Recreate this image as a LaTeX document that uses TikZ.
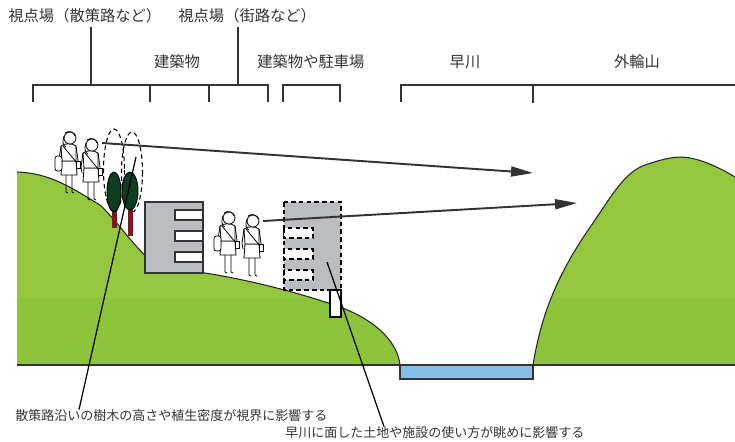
\documentclass[tikz,border=0pt]{standalone}
\usepackage{fontspec}
\setmainfont{Noto Sans CJK JP}
\usetikzlibrary{arrows.meta,positioning}

\definecolor{grass}{HTML}{94C73E}
\definecolor{grassdark}{HTML}{8EC43C}
\definecolor{river}{HTML}{86BEE8}
\definecolor{wall}{HTML}{BCBDC0}
\definecolor{leaf}{HTML}{0F3D22}
\definecolor{trunk}{HTML}{7A1A1E}
\definecolor{ink}{HTML}{333333}

%% both hills as one path, reused for the fill and the clip
\newcommand{\hillpath}{%
  (17,365) -- (17,172) .. controls (50,173) and (72,188) .. (100,205)
  .. controls (118,222) and (132,244) .. (148,258)
  .. controls (160,268) and (185,272) .. (205,273)
  .. controls (250,280) and (300,293) .. (340,307)
  .. controls (380,322) and (398,345) .. (400,365) -- cycle
  (533,365) .. controls (542,310) and (560,270) .. (593,223)
  .. controls (612,195) and (625,172) .. (645,165)
  .. controls (660,160) and (670,157) .. (682,157)
  .. controls (700,158) and (720,168) .. (735,177) -- (735,365) -- cycle}

\tikzset{
  lbl/.style={inner sep=0pt, font=\fontsize{8.7}{10}\selectfont, text=ink},
  note/.style={inner sep=0pt, font=\fontsize{7.4}{9}\selectfont, text=ink},
  bracket/.style={draw=ink, line width=0.9pt},
  sight/.style={draw=ink, line width=1.1pt, -{Triangle[length=0.44cm,width=0.2cm]}},
  leader/.style={draw=black, line width=0.7pt},
  hillline/.style={draw=black!85, line width=0.6pt},
  dashline/.style={dash pattern=on 2.6pt off 1.8pt},
  pics/walker/.style={code={
    \draw[fill=white] (-8,-18) -- (-7,-32) -- (7,-32) -- (8,-18) -- cycle;
    \draw (-3,-18) -- (-3,-1) -- (-1,0);
    \draw (3,-18) -- (3,-1) -- (5,0);
    \draw[fill=white] (-7,-32) -- (-8,-47) .. controls (-4,-50) and (3,-50) .. (7,-47) -- (7,-32) -- cycle;
    \draw (-8,-47) -- (-10,-33) -- (-9,-27);
    \draw (7,-47) -- (9,-33) -- (9,-27);
    \draw (-6,-47) -- (8,-30);
    \draw[fill=white] (7,-32) rectangle (11,-25);
    \draw[fill=white] (1,-55) circle [radius=6];
    \draw (-5,-57) .. controls (-7,-51) and (-6,-47) .. (-3,-46);
    \draw (-4,-60) .. controls (0,-63) and (5,-61) .. (6,-57);
  }},
  pics/walkerbag/.style={code={
    \pic {walker};
    \draw[fill=white, rounded corners=1.5pt] (-14,-37) rectangle (-7,-22);
  }},
}

\begin{document}
\begin{tikzpicture}[x=0.02cm, y=-0.02cm, line width=0.45pt]
        \useasboundingbox (0,0) rectangle (735,441);

        %% labels along the top
        \node (vpath)[lbl, anchor=west] at (8,16) {視点場（散策路など）};
        \node (vstreet)[lbl, anchor=west] at (178,16) {視点場（街路など）};
        \node (bldg)[lbl] at (177,62) {建築物};
        \node (park)[lbl, anchor=west] at (257,62) {建築物や駐車場};
        \node (hayakawa)[lbl] at (465,62) {早川};
        \node (somarin)[lbl] at (637,62) {外輪山};

        %% brackets
        \draw[bracket] (33,102) -- (33,85) -- (268,85) -- (268,102);
        \draw[bracket] (150,85) -- (150,102);
        \draw[bracket] (209,85) -- (209,102);
        \draw[bracket] (283,102) -- (283,85) -- (340,85) -- (340,102);
        \draw[bracket] (401,102) -- (401,85) -- (735,85);
        \draw[bracket, line width=1.6pt] (533,85) -- (533,103);
        \coordinate (bkA) at (91,85);
        \coordinate (bkB) at (238,85);
        \draw[bracket] (bkA |- vpath.south) ++(0,3) -- (bkA);
        \draw[bracket] (bkB |- vstreet.south) ++(0,3) -- (bkB);

        %% ground
        \fill[grass] \hillpath;
        \begin{scope}
          \clip \hillpath;
          \fill[grassdark] (0,298) rectangle (735,365);
        \end{scope}
        \draw[hillline] (17,172) .. controls (50,173) and (72,188) .. (100,205)
          .. controls (118,222) and (132,244) .. (148,258)
          .. controls (160,268) and (185,272) .. (205,273)
          .. controls (250,280) and (300,293) .. (340,307)
          .. controls (380,322) and (398,345) .. (400,365);
        \draw[hillline] (533,365) .. controls (542,310) and (560,270) .. (593,223)
          .. controls (612,195) and (625,172) .. (645,165)
          .. controls (660,160) and (670,157) .. (682,157)
          .. controls (700,158) and (720,168) .. (735,177);
        \draw[fill=river, draw=ink, line width=0.8pt] (400,365) rectangle (533,379);
        \draw[ink, line width=0.8pt] (17,365) -- (735,365);

        %% buildings
        \draw[fill=wall, draw=ink, line width=0.8pt] (145,202) rectangle (203,273);
        \foreach \y in {210,231,252}
          \draw[fill=white, draw=ink, line width=0.8pt] (175,\y) rectangle (203,\y+10);
        \draw[fill=wall, draw=black, line width=0.7pt, dashline] (284,202) rectangle (341,290);
        \foreach \y in {228,249,270}
          \draw[fill=white, draw=black, line width=0.7pt, dashline] (284,\y) rectangle (313,\y+10);
        \draw[fill=white, draw=black, line width=0.6pt] (330,290) rectangle (341,317);

        %% trees and their crowns
        \draw[dashline, line width=0.6pt] (114,170) ellipse [x radius=10.5, y radius=41];
        \draw[dashline, line width=0.6pt] (132,172) ellipse [x radius=10.5, y radius=40];
        \fill[trunk] (112,210) rectangle (117,228);
        \fill[trunk] (128,208) rectangle (133,236);
        \draw[fill=leaf, line width=0.5pt] (114,192) ellipse [x radius=7, y radius=20];
        \draw[fill=leaf, line width=0.5pt] (130,191) ellipse [x radius=8, y radius=19];

        %% people
        \pic at (69,193) {walkerbag};
        \pic at (91,200) {walker};
        \pic at (228,273) {walkerbag};
        \pic at (252,276) {walker};

        %% lines of sight
        \coordinate (eye1) at (102,143);
        \coordinate (tgt1) at (533,173);
        \coordinate (eye2) at (263,221);
        \coordinate (tgt2) at (577,203);
        \draw[sight] (eye1) -- (tgt1);
        \draw[sight] (eye2) -- (tgt2);

        %% notes
        \node (noteA)[note, anchor=west] at (15,416) {散策路沿いの樹木の高さや植生密度が視界に影響する};
        \node (noteB)[note, anchor=west] at (285,433) {早川に面した土地や施設の使い方が眺めに影響する};
        \coordinate (treetop) at (136,157);
        \coordinate (lotside) at (327,262);
        \coordinate (ldA) at (79,0);
        \coordinate (ldB) at (384,0);
        \draw[leader] (treetop) -- (noteA.north -| ldA);
        \draw[leader] (lotside) -- (noteB.north -| ldB);

      \end{tikzpicture}
\end{document}
